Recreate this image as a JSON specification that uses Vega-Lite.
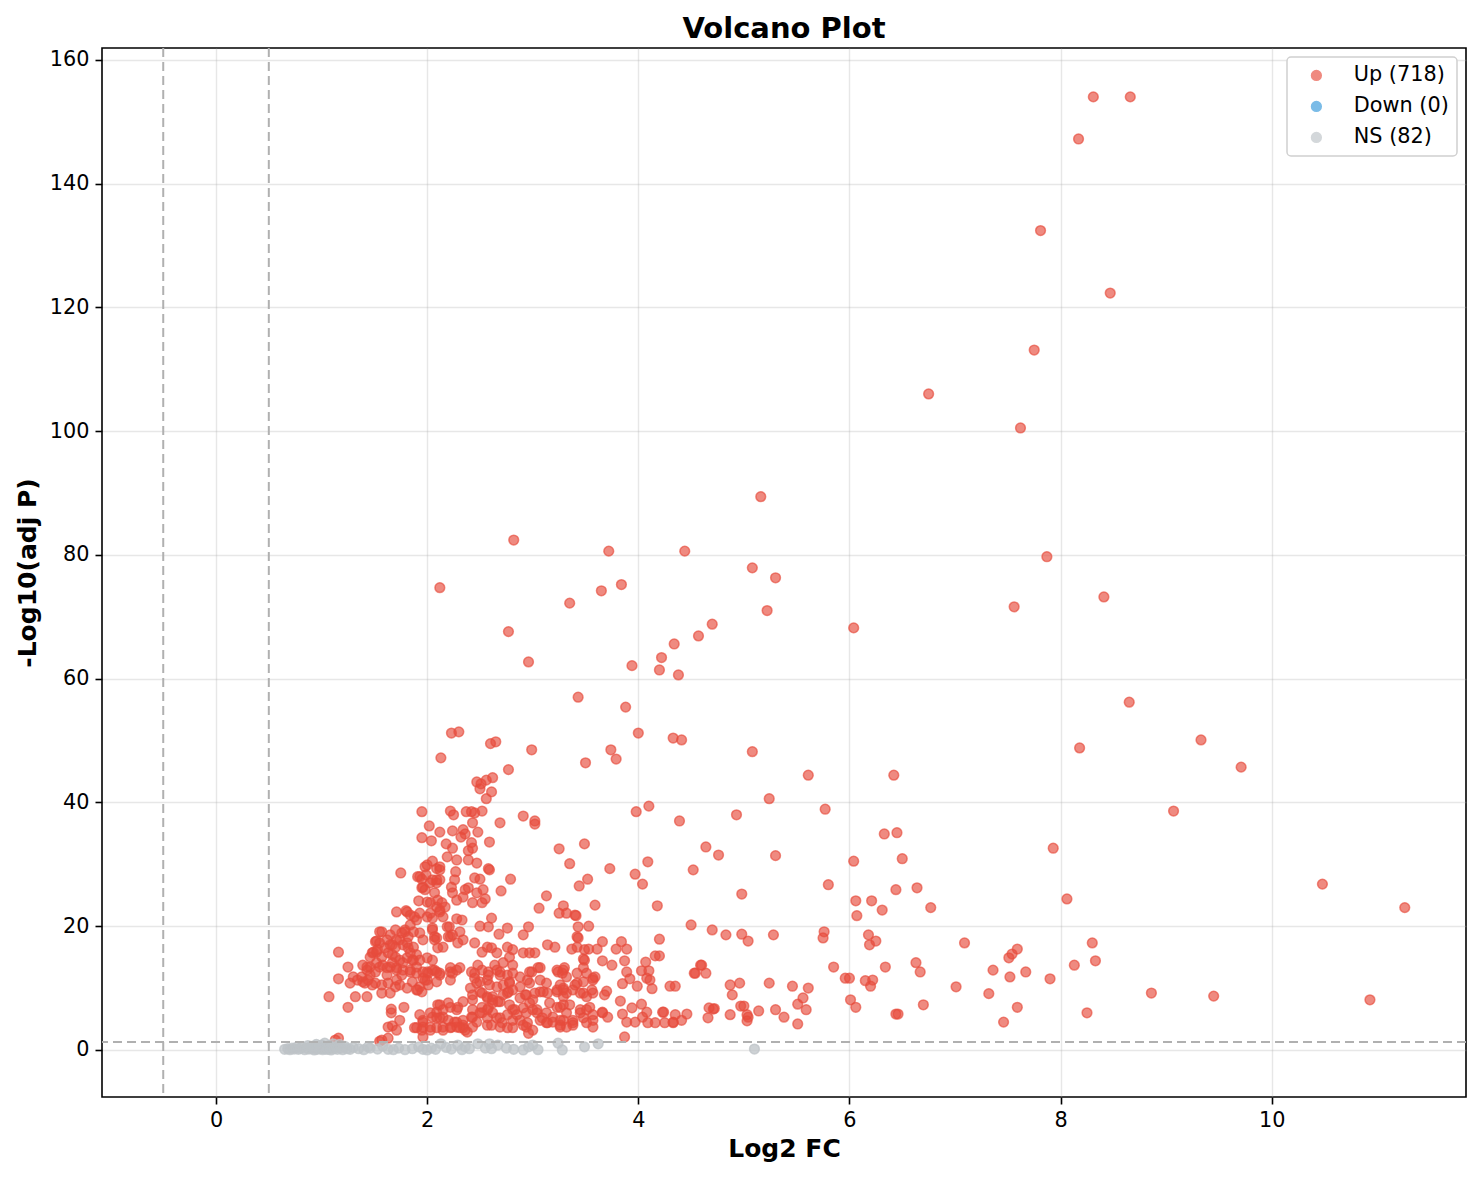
{
  "$schema": "https://vega.github.io/schema/vega-lite/v6.json",
  "width": 1364,
  "height": 1049,
  "autosize": {"type": "none"},
  "padding": {"left": 102, "top": 48, "right": 16, "bottom": 83},
  "background": "white",
  "config": {
    "font": "DejaVu Sans",
    "view": {"stroke": "black", "strokeWidth": 1.6},
    "axis": {
      "grid": true, "gridColor": "#b0b0b0", "gridOpacity": 0.3, "gridWidth": 1.4,
      "domain": false, "tickColor": "black", "tickSize": 7, "tickWidth": 1.6,
      "labelFont": "DejaVu Sans", "labelFontSize": 20.8, "labelColor": "black", "labelPadding": 6,
      "titleFont": "DejaVu Sans", "titleFontSize": 25, "titleFontWeight": "bold", "titleColor": "black"
    },
    "legend": {"strokeWidth": 1.5},
    "title": {"font": "DejaVu Sans", "fontSize": 29, "fontWeight": "bold", "color": "black", "offset": 3}
  },
  "title": {"text": "Volcano Plot", "anchor": "middle", "frame": "group"},
  "datasets": {
    "up": [
      {"x":8.66,"y":154.0},{"x":8.31,"y":154.0},{"x":8.17,"y":147.2},{"x":7.81,"y":132.4},{"x":8.47,"y":122.3},{"x":7.75,"y":113.1},{"x":6.75,"y":106.0},{"x":7.62,"y":100.5},{"x":5.16,"y":89.4},{"x":2.82,"y":82.4},{"x":3.72,"y":80.6},{"x":4.44,"y":80.6},{"x":7.87,"y":79.7},{"x":5.08,"y":77.9},{"x":5.30,"y":76.3},{"x":3.84,"y":75.2},{"x":2.12,"y":74.7},{"x":3.65,"y":74.2},{"x":8.41,"y":73.2},{"x":3.35,"y":72.2},{"x":7.56,"y":71.6},{"x":5.22,"y":71.0},{"x":4.70,"y":68.8},{"x":6.04,"y":68.2},{"x":2.77,"y":67.6},{"x":4.57,"y":66.9},{"x":4.34,"y":65.6},{"x":4.22,"y":63.4},{"x":2.96,"y":62.7},{"x":3.94,"y":62.1},{"x":4.20,"y":61.4},{"x":4.38,"y":60.6},{"x":3.43,"y":57.0},{"x":8.65,"y":56.2},{"x":3.88,"y":55.4},{"x":2.30,"y":51.4},{"x":2.23,"y":51.2},{"x":4.00,"y":51.2},{"x":4.33,"y":50.4},{"x":4.41,"y":50.1},{"x":9.33,"y":50.1},{"x":2.65,"y":49.8},{"x":2.60,"y":49.5},{"x":8.18,"y":48.8},{"x":2.99,"y":48.5},{"x":3.74,"y":48.5},{"x":5.08,"y":48.2},{"x":2.13,"y":47.2},{"x":3.79,"y":47.0},{"x":3.50,"y":46.4},{"x":9.71,"y":45.7},{"x":5.61,"y":44.4},{"x":6.42,"y":44.4},{"x":2.77,"y":45.3},{"x":5.24,"y":40.6},{"x":5.77,"y":38.9},{"x":9.07,"y":38.6},{"x":3.98,"y":38.5},{"x":4.10,"y":39.4},{"x":4.93,"y":38.0},{"x":4.39,"y":37.0},{"x":7.93,"y":32.6},{"x":4.64,"y":32.8},{"x":4.76,"y":31.5},{"x":5.30,"y":31.4},{"x":6.33,"y":34.9},{"x":6.45,"y":35.1},{"x":6.04,"y":30.5},{"x":6.50,"y":30.9},{"x":4.09,"y":30.4},{"x":3.73,"y":29.3},{"x":3.97,"y":28.4},{"x":4.52,"y":29.1},{"x":8.06,"y":24.4},{"x":10.48,"y":26.8},{"x":5.80,"y":26.7},{"x":6.64,"y":26.2},{"x":6.44,"y":25.9},{"x":4.04,"y":26.8},{"x":4.98,"y":25.2},{"x":6.06,"y":24.1},{"x":6.21,"y":24.1},{"x":6.31,"y":22.6},{"x":6.77,"y":23.0},{"x":11.26,"y":23.0},{"x":6.07,"y":21.7},{"x":4.18,"y":23.3},{"x":4.50,"y":20.2},{"x":4.70,"y":19.4},{"x":4.83,"y":18.6},{"x":4.98,"y":18.7},{"x":5.04,"y":17.6},{"x":5.28,"y":18.6},{"x":5.76,"y":19.1},{"x":5.75,"y":18.1},{"x":6.18,"y":18.6},{"x":6.25,"y":17.6},{"x":6.19,"y":17.0},{"x":7.09,"y":17.3},{"x":8.30,"y":17.3},{"x":7.59,"y":16.3},{"x":7.54,"y":15.5},{"x":7.51,"y":14.9},{"x":8.33,"y":14.4},{"x":6.34,"y":13.4},{"x":5.85,"y":13.4},{"x":6.63,"y":14.1},{"x":6.67,"y":12.6},{"x":7.36,"y":12.9},{"x":7.67,"y":12.6},{"x":8.13,"y":13.7},{"x":7.52,"y":11.8},{"x":7.90,"y":11.5},{"x":5.96,"y":11.6},{"x":6.00,"y":11.6},{"x":6.15,"y":11.2},{"x":6.22,"y":11.3},{"x":6.20,"y":10.3},{"x":7.01,"y":10.2},{"x":5.61,"y":10.0},{"x":5.46,"y":10.3},{"x":5.24,"y":10.8},{"x":4.96,"y":10.8},{"x":4.87,"y":10.5},{"x":7.32,"y":9.1},{"x":8.86,"y":9.2},{"x":9.45,"y":8.7},{"x":10.93,"y":8.1},{"x":6.01,"y":8.1},{"x":6.06,"y":6.9},{"x":6.70,"y":7.3},{"x":7.59,"y":6.9},{"x":5.56,"y":8.4},{"x":5.51,"y":7.4},{"x":5.59,"y":6.5},{"x":5.14,"y":6.3},{"x":5.30,"y":6.5},{"x":4.97,"y":7.1},{"x":8.25,"y":6.0},{"x":6.44,"y":5.8},{"x":6.46,"y":5.8},{"x":7.46,"y":4.5},{"x":5.38,"y":5.3},{"x":5.51,"y":4.2},{"x":5.04,"y":5.3},{"x":5.03,"y":4.7},{"x":4.87,"y":5.7},
      {"x":2.47,"y":43.3},{"x":2.51,"y":43.0},{"x":2.56,"y":43.6},{"x":2.62,"y":44.0},{"x":2.50,"y":42.2},{"x":2.61,"y":41.7},{"x":2.56,"y":40.6},
      {"x":4.89,"y":8.9},{"x":5.00,"y":7.1},{"x":5.03,"y":5.7},{"x":4.71,"y":6.6},{"x":4.72,"y":6.7},{"x":4.66,"y":5.2},{"x":4.20,"y":15.2},{"x":4.24,"y":6.1},{"x":4.33,"y":4.5},{"x":4.41,"y":4.8},{"x":4.59,"y":13.7},{"x":4.53,"y":12.4},{"x":4.64,"y":12.4},
      {"x":1.95,"y":38.5},{"x":2.22,"y":38.6},{"x":2.25,"y":38.0},{"x":2.37,"y":38.5},{"x":2.42,"y":38.5},{"x":2.52,"y":38.6},{"x":2.45,"y":38.3},{"x":2.43,"y":36.7},{"x":2.69,"y":36.7},{"x":2.91,"y":37.8},{"x":3.02,"y":37.0},{"x":3.02,"y":36.5},{"x":2.02,"y":36.2},{"x":2.12,"y":35.2},{"x":2.24,"y":35.4},{"x":2.34,"y":35.6},{"x":2.36,"y":34.9},{"x":2.32,"y":34.4},{"x":2.48,"y":35.2},{"x":1.95,"y":34.3},{"x":2.04,"y":33.8},{"x":2.18,"y":33.3},{"x":2.24,"y":32.6},{"x":2.42,"y":33.5},{"x":2.39,"y":32.2},{"x":2.43,"y":32.6},{"x":2.59,"y":33.6},{"x":3.49,"y":33.3},{"x":3.25,"y":32.5},{"x":2.19,"y":31.2},{"x":2.28,"y":30.7},{"x":2.39,"y":30.7},{"x":2.47,"y":30.2},{"x":3.35,"y":30.1},{"x":2.00,"y":29.9},{"x":2.05,"y":30.5},{"x":2.09,"y":29.3},{"x":2.12,"y":29.6},{"x":2.58,"y":29.3},{"x":2.59,"y":29.1},{"x":1.75,"y":28.6},{"x":2.27,"y":28.8},{"x":1.91,"y":28.0},{"x":1.95,"y":27.6},{"x":1.99,"y":28.3},{"x":2.05,"y":27.5},{"x":2.09,"y":27.0},{"x":2.12,"y":27.5},{"x":2.26,"y":27.5},{"x":2.45,"y":27.8},{"x":2.50,"y":27.6},{"x":2.79,"y":27.6},{"x":3.52,"y":27.6},{"x":3.44,"y":26.5},{"x":1.95,"y":26.2},{"x":1.98,"y":25.9},{"x":2.23,"y":26.3},{"x":2.24,"y":25.4},{"x":2.36,"y":25.9},{"x":2.39,"y":26.2},{"x":2.47,"y":25.4},{"x":2.53,"y":25.9},{"x":2.70,"y":25.7},{"x":3.13,"y":24.9},{"x":1.92,"y":24.1},{"x":2.00,"y":23.9},{"x":2.03,"y":23.8},{"x":2.10,"y":24.2},{"x":2.14,"y":23.8},{"x":2.17,"y":23.1},{"x":2.28,"y":24.2},{"x":2.34,"y":24.7},{"x":2.43,"y":23.8},{"x":2.52,"y":23.8},{"x":2.55,"y":24.4},{"x":3.06,"y":22.9},{"x":3.25,"y":22.1},{"x":3.29,"y":23.3},{"x":3.32,"y":22.1},{"x":3.41,"y":21.7},{"x":3.59,"y":23.4},{"x":1.71,"y":22.3},{"x":1.80,"y":22.5},{"x":1.84,"y":21.8},{"x":1.88,"y":21.5},{"x":1.93,"y":22.1},{"x":2.00,"y":21.5},{"x":2.05,"y":21.3},{"x":2.12,"y":22.3},{"x":2.15,"y":21.5},{"x":2.21,"y":19.9},{"x":2.28,"y":21.2},{"x":2.33,"y":21.0},{"x":2.50,"y":20.0},{"x":2.58,"y":19.9},{"x":2.61,"y":21.3},{"x":2.76,"y":19.7},{"x":2.68,"y":18.7},{"x":2.91,"y":18.6},{"x":2.96,"y":19.9},{"x":3.43,"y":19.9},{"x":3.53,"y":20.0},{"x":1.55,"y":19.1},{"x":1.65,"y":18.6},{"x":1.70,"y":19.4},{"x":1.76,"y":18.9},{"x":1.79,"y":19.4},{"x":1.82,"y":18.3},{"x":1.87,"y":19.1},{"x":1.93,"y":18.9},{"x":1.96,"y":17.8},{"x":2.05,"y":19.7},{"x":2.07,"y":18.3},{"x":2.15,"y":16.6},{"x":2.22,"y":18.3},{"x":2.24,"y":18.6},{"x":2.31,"y":19.1},{"x":2.34,"y":17.8},{"x":2.29,"y":17.3},{"x":2.45,"y":17.3},{"x":2.52,"y":15.8},{"x":2.57,"y":16.6},{"x":2.61,"y":16.5},{"x":2.66,"y":15.7},{"x":2.76,"y":16.6},{"x":2.78,"y":15.0},{"x":2.81,"y":16.2},{"x":3.02,"y":15.7},{"x":2.91,"y":15.7},{"x":2.97,"y":15.7},{"x":3.14,"y":17.0},{"x":3.21,"y":16.6},{"x":3.42,"y":18.3},{"x":3.42,"y":16.6},{"x":3.49,"y":16.2},{"x":3.49,"y":14.5},{"x":3.53,"y":16.3},{"x":3.61,"y":16.3},{"x":1.16,"y":15.8},{"x":1.25,"y":13.4},{"x":1.51,"y":17.5},{"x":1.55,"y":17.3},{"x":1.62,"y":17.8},{"x":1.65,"y":17.0},{"x":1.70,"y":16.6},{"x":1.74,"y":17.8},{"x":1.77,"y":17.0},{"x":1.82,"y":16.5},{"x":1.87,"y":16.6},{"x":1.48,"y":15.7},{"x":1.52,"y":15.8},{"x":1.57,"y":15.0},{"x":1.63,"y":15.7},{"x":1.70,"y":15.0},{"x":1.74,"y":14.5},{"x":1.81,"y":14.9},{"x":1.87,"y":14.5},{"x":1.90,"y":15.4},{"x":1.52,"y":14.1},{"x":1.58,"y":13.7},{"x":1.65,"y":13.4},{"x":1.71,"y":13.3},{"x":1.77,"y":12.9},{"x":1.84,"y":12.6},{"x":1.90,"y":12.4},{"x":1.39,"y":13.7},{"x":1.43,"y":12.9},{"x":1.46,"y":13.4},{"x":1.30,"y":11.8},{"x":1.34,"y":11.3},{"x":1.39,"y":11.0},{"x":1.44,"y":11.3},{"x":1.16,"y":11.5},{"x":1.51,"y":10.8},{"x":1.57,"y":10.5},{"x":1.63,"y":10.8},{"x":1.70,"y":10.2},{"x":1.74,"y":10.5},{"x":1.81,"y":10.0},{"x":1.86,"y":11.0},{"x":1.91,"y":9.7},{"x":2.00,"y":11.3},{"x":2.00,"y":12.6},{"x":2.07,"y":12.9},{"x":2.12,"y":12.4},{"x":2.22,"y":12.6},{"x":2.28,"y":12.9},{"x":2.31,"y":13.3},{"x":2.45,"y":12.4},{"x":2.52,"y":12.9},{"x":2.58,"y":12.6},{"x":2.66,"y":12.9},{"x":2.69,"y":12.6},{"x":2.76,"y":12.1},{"x":2.81,"y":12.4},{"x":2.88,"y":11.8},{"x":2.97,"y":12.6},{"x":3.05,"y":13.3},{"x":3.24,"y":12.6},{"x":3.29,"y":12.9},{"x":3.32,"y":11.8},{"x":3.42,"y":12.4},{"x":3.51,"y":12.4},{"x":3.57,"y":11.6},{"x":1.07,"y":8.6},{"x":1.25,"y":6.9},{"x":1.32,"y":8.6},{"x":1.43,"y":8.6},{"x":1.57,"y":9.2},{"x":1.65,"y":9.2},{"x":1.66,"y":6.6},{"x":1.66,"y":6.0},{"x":1.78,"y":6.9},{"x":1.74,"y":4.8},{"x":1.67,"y":3.9},{"x":1.71,"y":3.2},{"x":1.63,"y":3.7},{"x":1.57,"y":1.6},{"x":1.16,"y":1.9},{"x":1.13,"y":1.6},{"x":1.55,"y":1.4},{"x":1.63,"y":1.9},{"x":1.90,"y":3.6},{"x":1.96,"y":3.7},{"x":2.03,"y":3.2},{"x":2.09,"y":3.6},{"x":2.15,"y":3.7},{"x":2.22,"y":3.6},{"x":2.28,"y":3.7},{"x":2.34,"y":3.6},{"x":2.38,"y":2.9},{"x":1.96,"y":4.8},{"x":2.05,"y":5.3},{"x":2.12,"y":5.2},{"x":2.20,"y":4.8},{"x":2.26,"y":4.5},{"x":2.34,"y":4.0},{"x":2.03,"y":6.0},{"x":2.09,"y":6.1},{"x":2.15,"y":6.5},{"x":2.12,"y":7.3},{"x":2.22,"y":6.9},{"x":2.28,"y":6.5},{"x":2.34,"y":7.8},{"x":1.96,"y":2.1},{"x":2.96,"y":2.7},
      {"x":2.43,"y":5.3},{"x":2.50,"y":6.0},{"x":2.57,"y":6.5},{"x":2.62,"y":6.0},{"x":2.69,"y":5.2},{"x":2.76,"y":5.7},{"x":2.81,"y":6.5},{"x":2.88,"y":4.8},{"x":2.94,"y":6.0},{"x":3.00,"y":6.5},{"x":3.07,"y":4.8},{"x":3.13,"y":6.0},{"x":3.19,"y":5.3},{"x":3.26,"y":4.8},{"x":3.32,"y":6.0},{"x":3.38,"y":4.8},{"x":3.45,"y":6.0},{"x":3.51,"y":6.5},{"x":3.57,"y":5.7},
      {"x":2.43,"y":8.1},{"x":2.52,"y":9.2},{"x":2.57,"y":8.4},{"x":2.62,"y":8.6},{"x":2.69,"y":7.8},{"x":2.76,"y":9.2},{"x":2.81,"y":9.7},{"x":2.88,"y":8.4},{"x":2.94,"y":8.9},{"x":3.00,"y":8.1},{"x":3.07,"y":9.4},{"x":3.14,"y":9.2},{"x":3.23,"y":9.7},{"x":3.29,"y":8.6},{"x":3.38,"y":9.7},{"x":3.45,"y":9.2},{"x":3.51,"y":8.6},{"x":3.57,"y":9.2},
      {"x":2.47,"y":10.8},{"x":2.57,"y":11.3},{"x":2.66,"y":10.2},{"x":2.72,"y":10.5},{"x":2.78,"y":11.0},{"x":2.88,"y":10.2},{"x":2.97,"y":10.8},{"x":3.07,"y":11.3},{"x":3.13,"y":10.8},{"x":3.26,"y":10.5},{"x":3.42,"y":10.8},{"x":3.48,"y":11.0},
      {"x":2.43,"y":3.7},{"x":2.57,"y":4.0},{"x":2.69,"y":3.7},{"x":2.81,"y":3.6},{"x":2.94,"y":3.7},{"x":3.00,"y":3.2},{"x":3.14,"y":4.4},{"x":3.26,"y":3.7},{"x":3.38,"y":4.0},{"x":3.51,"y":4.4},{"x":3.57,"y":3.7},
      {"x":3.40,"y":21.8},{"x":3.43,"y":18.1},{"x":3.66,"y":17.5},{"x":3.84,"y":17.5},{"x":4.20,"y":17.9},{"x":3.37,"y":16.3},{"x":3.79,"y":16.3},{"x":3.89,"y":16.3},{"x":3.48,"y":14.7},{"x":3.66,"y":14.4},{"x":3.75,"y":13.7},{"x":3.87,"y":14.4},{"x":4.07,"y":14.2},{"x":4.16,"y":15.2},{"x":3.48,"y":13.3},{"x":3.89,"y":12.6},{"x":4.03,"y":12.8},{"x":4.10,"y":12.8},{"x":3.57,"y":11.3},{"x":3.59,"y":11.8},{"x":3.85,"y":10.7},{"x":3.92,"y":11.5},{"x":4.08,"y":11.6},{"x":4.11,"y":11.3},{"x":4.54,"y":12.4},{"x":4.60,"y":13.7},{"x":3.40,"y":10.5},{"x":3.70,"y":9.5},{"x":3.68,"y":8.9},{"x":3.99,"y":10.3},{"x":4.13,"y":9.9},{"x":4.30,"y":10.3},{"x":4.35,"y":10.3},{"x":3.29,"y":10.0},{"x":3.48,"y":9.2},{"x":3.56,"y":9.7},{"x":3.83,"y":7.9},{"x":4.03,"y":7.4},{"x":3.94,"y":6.8},{"x":4.08,"y":6.1},{"x":4.23,"y":6.1},{"x":4.35,"y":5.7},{"x":4.46,"y":5.8},{"x":4.67,"y":6.8},{"x":3.26,"y":6.9},{"x":3.35,"y":7.3},{"x":3.45,"y":6.5},{"x":3.54,"y":6.9},{"x":3.66,"y":6.1},{"x":3.71,"y":5.3},{"x":3.85,"y":5.8},{"x":3.89,"y":4.5},{"x":3.97,"y":4.5},{"x":4.04,"y":5.3},{"x":4.09,"y":4.4},{"x":4.16,"y":4.4},{"x":4.25,"y":4.4},{"x":4.33,"y":4.4},{"x":3.29,"y":4.8},{"x":3.38,"y":4.4},{"x":3.48,"y":5.2},{"x":3.57,"y":4.8},{"x":3.66,"y":6.0},{"x":3.87,"y":2.1},
      {"x":1.57,"y":19.1},{"x":1.52,"y":17.6},{"x":1.49,"y":15.8},{"x":1.53,"y":16.2},{"x":1.60,"y":16.5},{"x":1.67,"y":17.0},{"x":1.71,"y":17.8},{"x":1.79,"y":19.1},{"x":1.84,"y":20.2},{"x":1.90,"y":21.0},{"x":1.81,"y":22.3},{"x":1.93,"y":28.0},{"x":1.96,"y":26.3},{"x":2.03,"y":27.0},{"x":2.07,"y":25.4},{"x":2.09,"y":27.5},{"x":2.12,"y":29.1},{"x":1.98,"y":29.6},{"x":2.03,"y":22.1},{"x":2.09,"y":23.1},{"x":2.12,"y":22.6},{"x":2.05,"y":19.4},{"x":2.07,"y":17.8},{"x":2.09,"y":18.1},{"x":2.10,"y":16.5},{"x":2.19,"y":19.9},{"x":2.20,"y":18.3},{"x":1.81,"y":17.3},{"x":1.84,"y":15.7},{"x":1.86,"y":14.5},{"x":1.90,"y":13.4},{"x":1.84,"y":12.9},{"x":1.77,"y":14.1},{"x":1.67,"y":15.4},{"x":1.67,"y":14.1},{"x":1.62,"y":13.3},{"x":1.71,"y":12.9},{"x":1.76,"y":12.1},{"x":1.71,"y":11.3},{"x":1.62,"y":12.1},{"x":1.46,"y":15.0},{"x":1.43,"y":13.4},{"x":1.46,"y":12.1},{"x":1.51,"y":12.6},{"x":1.55,"y":13.4},{"x":1.27,"y":10.8},{"x":1.38,"y":11.8},{"x":1.41,"y":10.8},{"x":1.48,"y":10.5},{"x":1.93,"y":14.5},{"x":2.00,"y":14.9},{"x":2.05,"y":14.5},{"x":2.05,"y":12.9},{"x":2.12,"y":12.1},{"x":2.09,"y":11.0},{"x":2.01,"y":12.4},{"x":1.96,"y":11.6},{"x":1.93,"y":10.2},{"x":2.01,"y":10.5},
      {"x":1.96,"y":12.6},{"x":1.98,"y":11.3},{"x":1.90,"y":9.7},{"x":1.95,"y":9.4},{"x":2.09,"y":12.6},{"x":2.22,"y":13.3},{"x":2.24,"y":12.4},{"x":2.22,"y":11.3},{"x":2.42,"y":12.6},{"x":2.45,"y":11.6},{"x":2.50,"y":11.0},{"x":2.48,"y":13.7},{"x":2.58,"y":12.1},{"x":2.69,"y":12.1},{"x":2.59,"y":10.5},{"x":2.41,"y":10.0},{"x":2.43,"y":8.9},{"x":2.50,"y":9.4},{"x":2.57,"y":8.6},{"x":2.62,"y":8.1},{"x":2.67,"y":7.8},{"x":2.72,"y":8.9},{"x":2.77,"y":9.4},{"x":2.78,"y":10.8},{"x":2.64,"y":13.7},{"x":2.72,"y":14.1},{"x":2.81,"y":13.7},{"x":2.95,"y":11.3},{"x":2.99,"y":12.6},{"x":3.07,"y":13.3},{"x":2.93,"y":8.9},{"x":3.02,"y":9.2},{"x":3.10,"y":9.4},{"x":3.23,"y":12.9},{"x":3.28,"y":12.4},{"x":3.30,"y":13.3},{"x":3.23,"y":9.4},{"x":3.29,"y":9.7},{"x":3.32,"y":9.2},{"x":2.10,"y":7.3},{"x":2.20,"y":7.6},{"x":2.29,"y":6.9},{"x":2.43,"y":6.5},{"x":2.52,"y":6.9},{"x":2.58,"y":6.8},{"x":2.62,"y":7.6},{"x":2.78,"y":7.3},{"x":2.83,"y":6.5},{"x":2.91,"y":6.8},{"x":2.97,"y":7.6},{"x":3.04,"y":6.5},{"x":3.16,"y":7.6},{"x":3.23,"y":6.9},{"x":3.29,"y":7.3},{"x":1.93,"y":5.7},{"x":1.96,"y":4.5},{"x":2.09,"y":5.2},{"x":2.15,"y":5.3},{"x":2.28,"y":4.5},{"x":2.34,"y":4.8},{"x":1.88,"y":3.6},{"x":1.95,"y":3.2},{"x":2.03,"y":3.7},{"x":2.15,"y":3.2},{"x":2.23,"y":3.7},{"x":2.31,"y":3.6},{"x":2.36,"y":3.2},{"x":2.42,"y":5.3},{"x":2.47,"y":4.5},{"x":2.52,"y":6.0},{"x":2.57,"y":5.2},{"x":2.61,"y":4.0},{"x":2.66,"y":5.2},{"x":2.71,"y":4.4},{"x":2.76,"y":3.6},{"x":2.81,"y":4.8},{"x":2.85,"y":5.7},{"x":2.91,"y":4.0},{"x":2.95,"y":4.4},{"x":3.04,"y":6.0},{"x":3.09,"y":5.2},{"x":3.13,"y":4.4},{"x":3.19,"y":4.5},{"x":3.26,"y":4.0},{"x":3.32,"y":3.7}
    ],
    "ns": [
      {"x":0.65,"y":0.1},{"x":0.68,"y":0.2},{"x":0.70,"y":0.05},{"x":0.72,"y":0.3},{"x":0.74,"y":0.15},{"x":0.76,"y":0.4},{"x":0.78,"y":0.1},{"x":0.80,"y":0.25},{"x":0.82,"y":0.5},{"x":0.84,"y":0.05},{"x":0.86,"y":0.3},{"x":0.88,"y":0.15},{"x":0.90,"y":0.6},{"x":0.91,"y":0.2},{"x":0.93,"y":0.0},{"x":0.95,"y":0.35},{"x":0.96,"y":0.1},{"x":0.98,"y":0.5},{"x":0.99,"y":0.2},{"x":1.00,"y":0.8},{"x":1.01,"y":0.05},{"x":1.02,"y":0.3},{"x":1.03,"y":1.1},{"x":1.04,"y":0.15},{"x":1.05,"y":0.45},{"x":1.06,"y":0.1},{"x":1.07,"y":0.7},{"x":1.08,"y":0.25},{"x":1.09,"y":0.0},{"x":1.10,"y":0.4},{"x":1.11,"y":1.0},{"x":1.12,"y":0.2},{"x":1.14,"y":0.5},{"x":1.15,"y":0.1},{"x":1.17,"y":0.9},{"x":1.18,"y":0.3},{"x":1.20,"y":0.05},{"x":1.22,"y":0.6},{"x":1.24,"y":0.2},
      {"x":1.35,"y":0.2},{"x":1.40,"y":0.05},{"x":1.46,"y":0.3},{"x":1.53,"y":0.15},{"x":1.58,"y":0.6},{"x":1.63,"y":0.1},{"x":1.73,"y":0.3},{"x":1.79,"y":0.05},{"x":1.86,"y":0.2},{"x":1.92,"y":0.5},{"x":1.96,"y":0.1},{"x":2.00,"y":0.0},{"x":2.04,"y":0.3},{"x":2.08,"y":0.1},{"x":2.13,"y":1.0},{"x":2.18,"y":0.4},{"x":2.23,"y":0.15},{"x":2.29,"y":0.8},{"x":2.33,"y":0.05},{"x":2.40,"y":0.2},{"x":2.48,"y":1.0},{"x":2.55,"y":0.3},{"x":2.59,"y":1.0},{"x":2.61,"y":0.2},{"x":2.67,"y":0.8},{"x":2.75,"y":0.3},{"x":2.82,"y":0.1},{"x":2.91,"y":0.0},{"x":2.96,"y":0.5},{"x":3.00,"y":0.8},{"x":3.05,"y":0.05},{"x":3.24,"y":1.1},{"x":3.28,"y":0.0},{"x":3.49,"y":0.5},{"x":3.62,"y":1.0},{"x":5.10,"y":0.15},
      {"x":1.27,"y":0.1},{"x":1.30,"y":0.4},{"x":0.95,"y":0.9},{"x":0.87,"y":0.7},{"x":1.44,"y":0.5},{"x":1.68,"y":0.05},{"x":2.36,"y":0.5}
    ],
    "vlines": [{"v": -0.5}, {"v": 0.5}],
    "hlines": [{"h": 1.301}]
  },
  "layer": [
    {
      "data": {"name": "up"},
      "mark": {"type": "point", "shape": "circle", "filled": true, "fillOpacity": 0.65, "strokeOpacity": 0.65, "strokeWidth": 1.5, "size": 95},
      "encoding": {
        "x": {"field": "x", "type": "quantitative", "scale": {"domain": [-1.08, 11.84], "nice": false, "zero": false}, "axis": {"values": [0, 2, 4, 6, 8, 10], "format": "d", "title": "Log2 FC", "titlePadding": 7}},
        "y": {"field": "y", "type": "quantitative", "scale": {"domain": [-7.6, 161.9], "nice": false, "zero": false}, "axis": {"values": [0, 20, 40, 60, 80, 100, 120, 140, 160], "format": "d", "title": "-Log10(adj P)", "titlePadding": 9}},
        "color": {"datum": "Up (718)", "type": "nominal", "scale": {"domain": ["Up (718)", "Down (0)", "NS (82)"], "range": ["#e74c3c", "#3498db", "#bdc3c7"]},
          "legend": {"title": null, "orient": "top-right", "offset": 9, "labelFontSize": 20.8, "labelFont": "DejaVu Sans", "labelColor": "black", "symbolType": "circle", "symbolSize": 95, "symbolOpacity": 0.65, "symbolStrokeWidth": 1.5, "fillColor": "white", "strokeColor": "#d0d0d0", "cornerRadius": 4, "padding": 8, "rowPadding": 9, "labelOffset": 27, "symbolOffset": 11}},
        "stroke": {"datum": "Up (718)", "type": "nominal", "scale": {"domain": ["Up (718)", "Down (0)", "NS (82)"], "range": ["#e74c3c", "#3498db", "#bdc3c7"]}, "legend": null}
      }
    },
    {
      "data": {"name": "ns"},
      "mark": {"type": "point", "shape": "circle", "filled": true, "fillOpacity": 0.75, "strokeOpacity": 0.75, "strokeWidth": 1.5, "size": 95},
      "encoding": {
        "x": {"field": "x", "type": "quantitative"},
        "y": {"field": "y", "type": "quantitative"},
        "color": {"datum": "NS (82)", "type": "nominal"},
        "stroke": {"datum": "NS (82)", "type": "nominal", "legend": null}
      }
    },
    {
      "data": {"name": "vlines"},
      "mark": {"type": "rule", "color": "#b0b0b0", "strokeDash": [9, 5], "strokeWidth": 2},
      "encoding": {"x": {"field": "v", "type": "quantitative"}}
    },
    {
      "data": {"name": "hlines"},
      "mark": {"type": "rule", "color": "#b0b0b0", "strokeDash": [9, 5], "strokeWidth": 2},
      "encoding": {"y": {"field": "h", "type": "quantitative"}}
    }
  ]
}
